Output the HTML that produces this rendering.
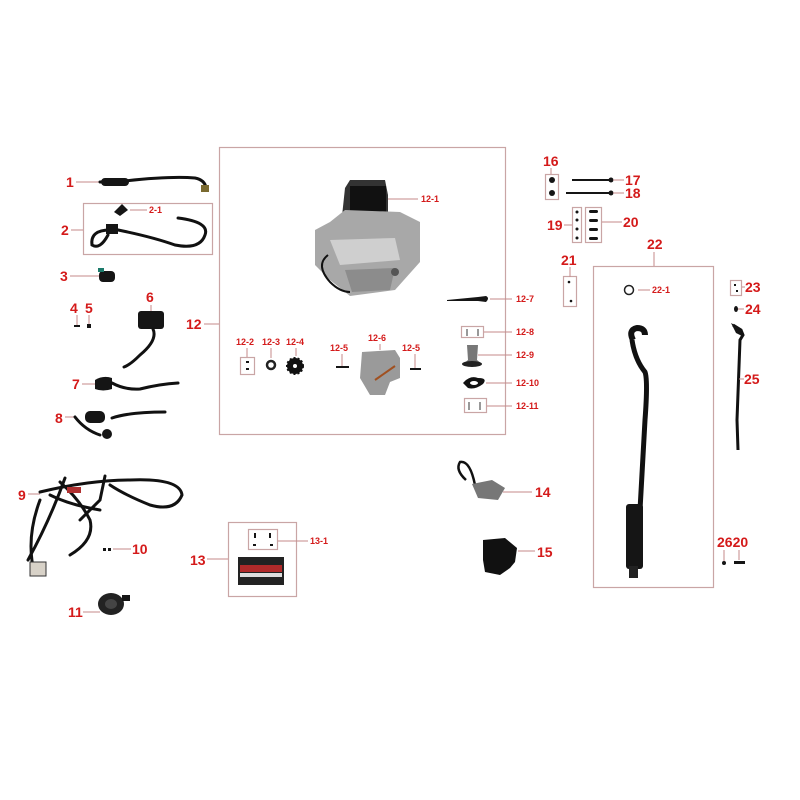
<!DOCTYPE html>
<html><head><meta charset="utf-8"><style>
html,body{margin:0;padding:0;background:#fff;width:800px;height:800px;overflow:hidden}
svg{display:block}
.l{font-family:"Liberation Sans",sans-serif;font-weight:bold;fill:#d41a1a;font-size:14px}
.s{font-family:"Liberation Sans",sans-serif;font-weight:bold;fill:#d41a1a;font-size:9px}
.ln{stroke:#c48a8a;stroke-width:1;fill:none}
.bx{stroke:#c9a5a5;stroke-width:1.2;fill:none}
.w{stroke:#111;stroke-width:3;fill:none;stroke-linecap:round}
.k{fill:#151515}
.g{fill:#8a8a8a}
</style></head><body>
<svg width="800" height="800" viewBox="0 0 800 800">
<!-- boxes -->
<rect class="bx" x="219.5" y="147.5" width="286" height="287"/>
<rect class="bx" x="593.5" y="266.5" width="120" height="321"/>
<rect class="bx" x="83.5" y="203.5" width="129" height="51"/>
<rect class="bx" x="228.5" y="522.5" width="68" height="74"/>
<rect class="bx" x="248.5" y="529.5" width="29" height="20"/>
<rect class="bx" x="545.5" y="174.5" width="13" height="25"/>
<rect class="bx" x="572.5" y="207.5" width="9" height="35"/>
<rect class="bx" x="585.5" y="207.5" width="16" height="35"/>
<rect class="bx" x="563.5" y="276.5" width="13" height="30"/>
<rect class="bx" x="730.5" y="280.5" width="11" height="15"/>
<rect class="bx" x="240.5" y="357.5" width="14" height="17"/>
<rect class="bx" x="461.5" y="326.5" width="22" height="11"/>
<rect class="bx" x="464.5" y="398.5" width="22" height="14"/>

<!-- left labels -->
<text class="l" x="66" y="187">1</text><line class="ln" x1="76" y1="182" x2="100" y2="182"/>
<path class="w" d="M100 182 L125 181 Q170 176 195 178 Q205 180 206 188" />
<rect class="k" x="101" y="178" width="28" height="8" rx="4"/>
<rect x="201" y="185" width="8" height="7" fill="#7a6a30"/>
<text class="l" x="61" y="235">2</text><line class="ln" x1="71" y1="230" x2="83" y2="230"/>
<path class="k" d="M114 212 L122 204 L128 210 L120 216Z"/><line class="ln" x1="130" y1="210" x2="147" y2="210"/><text class="s" x="149" y="213">2-1</text>
<path class="w" d="M108 228 Q150 236 175 245 Q200 250 205 235 Q210 222 178 218" stroke-width="2.5"/>
<path class="w" d="M110 230 Q90 230 92 245 Q100 250 108 235" stroke-width="1.5"/>
<rect class="k" x="106" y="224" width="12" height="10"/>
<text class="l" x="60" y="281">3</text><line class="ln" x1="70" y1="276" x2="100" y2="276"/>
<rect class="k" x="99" y="271" width="16" height="11" rx="4"/><rect x="98" y="268" width="6" height="4" fill="#1b7a6a"/>
<text class="l" x="70" y="313">4</text><text class="l" x="85" y="313">5</text>
<rect class="k" x="74" y="325" width="6" height="2"/><rect class="k" x="87" y="324" width="4" height="4"/>
<line class="ln" x1="77" y1="315" x2="77" y2="325"/><line class="ln" x1="89" y1="315" x2="89" y2="324"/>
<text class="l" x="146" y="302">6</text><line class="ln" x1="151" y1="305" x2="151" y2="311"/>
<rect class="k" x="138" y="311" width="26" height="18" rx="3"/>
<path class="w" d="M153 329 Q158 340 140 355 Q130 365 124 367"/>
<text class="l" x="72" y="389">7</text><line class="ln" x1="82" y1="384" x2="95" y2="384"/>
<path class="k" d="M95 380 Q103 375 112 378 L112 389 Q103 392 95 389Z"/>
<path class="w" d="M112 383 Q125 390 140 389 Q160 384 178 383" stroke-width="2"/>
<text class="l" x="55" y="423">8</text><line class="ln" x1="65" y1="417" x2="75" y2="417"/>
<path class="w" d="M75 417 Q85 430 100 435" stroke-width="2"/>
<rect class="k" x="85" y="411" width="20" height="12" rx="5"/><circle class="k" cx="107" cy="434" r="5"/>
<path class="w" d="M112 418 Q130 412 165 412" stroke-width="2"/>
<text class="l" x="18" y="500">9</text><line class="ln" x1="28" y1="494" x2="40" y2="494"/>
<g class="w" stroke-width="3">
<path d="M40 492 Q90 480 130 480 Q180 478 182 495 Q175 512 150 505 Q125 495 110 485"/>
<path d="M60 482 Q80 500 90 520 Q95 540 70 555"/>
<path d="M40 500 Q25 540 35 575"/>
<path d="M50 495 Q70 505 100 510"/>
<path d="M105 476 L100 500 L80 520"/>
<path d="M65 478 Q50 520 28 560"/>
</g>
<rect x="30" y="562" width="16" height="14" fill="#d8d2c8" stroke="#333"/>
<rect x="67" y="487" width="14" height="6" fill="#b03030"/>
<rect class="k" x="103" y="548" width="3" height="3"/><rect class="k" x="108" y="548" width="3" height="3"/>
<line class="ln" x1="113" y1="549" x2="131" y2="549"/><text class="l" x="132" y="554">10</text>
<text class="l" x="68" y="617">11</text><line class="ln" x1="83" y1="612" x2="100" y2="612"/>
<ellipse cx="111" cy="604" rx="13" ry="11" fill="#222"/><ellipse cx="111" cy="604" rx="6" ry="5" fill="#444"/>
<rect class="k" x="122" y="595" width="8" height="6"/>
<text class="l" x="186" y="329">12</text><line class="ln" x1="204" y1="324" x2="219" y2="324"/>

<!-- engine -->
<g>
<path d="M345 188 L350 180 L385 180 L388 195 L388 235 L340 235Z" fill="#333"/>
<rect x="350" y="186" width="36" height="40" fill="#111"/>
<path d="M315 230 L330 222 L345 210 L400 212 L420 222 L420 262 L395 290 L350 296 L330 280 L315 265Z" fill="#a8a8a8"/>
<path d="M330 240 L395 238 L400 260 L340 265Z" fill="#cfcfcf"/>
<path d="M345 270 L395 268 L390 290 L352 292Z" fill="#8c8c8c"/>
<circle cx="395" cy="272" r="4" fill="#555"/>
<path d="M328 255 Q315 265 330 282 Q340 292 350 292" stroke="#111" stroke-width="2" fill="none"/>
</g>
<line class="ln" x1="388" y1="199" x2="418" y2="199"/><text class="s" x="421" y="202">12-1</text>
<path d="M447 300 L478 297 L486 296 Q490 298 486 302 L478 301 L447 301Z" class="k"/>
<line class="ln" x1="490" y1="299" x2="512" y2="299"/><text class="s" x="516" y="302">12-7</text>
<line x1="467" y1="329" x2="467" y2="336" stroke="#333"/><line x1="478" y1="329" x2="478" y2="336" stroke="#333"/>
<line class="ln" x1="484" y1="332" x2="512" y2="332"/><text class="s" x="516" y="335">12-8</text>
<path d="M467 345 L478 345 L477 360 L482 364 L463 364 L468 360Z" fill="#777"/><ellipse cx="472" cy="364" rx="10" ry="3" fill="#222"/>
<line class="ln" x1="478" y1="355" x2="512" y2="355"/><text class="s" x="516" y="358">12-9</text>
<path d="M463 383 Q470 375 478 378 Q488 378 483 384 Q475 390 468 388Z" fill="#111"/><ellipse cx="474" cy="383" rx="4" ry="2" fill="#fff"/>
<line class="ln" x1="486" y1="383" x2="512" y2="383"/><text class="s" x="516" y="386">12-10</text>
<line x1="469" y1="402" x2="469" y2="410" stroke="#333"/><line x1="480" y1="402" x2="480" y2="410" stroke="#333"/>
<line class="ln" x1="487" y1="406" x2="512" y2="406"/><text class="s" x="516" y="409">12-11</text>
<text class="s" x="236" y="345">12-2</text><line class="ln" x1="247" y1="348" x2="247" y2="357"/>
<rect class="k" x="246" y="361" width="3" height="2"/><rect class="k" x="246" y="368" width="3" height="2"/>
<text class="s" x="262" y="345">12-3</text><line class="ln" x1="271" y1="348" x2="271" y2="358"/>
<circle cx="271" cy="365" r="4" fill="none" stroke="#222" stroke-width="2.5"/>
<text class="s" x="286" y="345">12-4</text><line class="ln" x1="296" y1="348" x2="296" y2="356"/>
<circle cx="295" cy="366" r="8" fill="#111" stroke="#111" stroke-width="2" stroke-dasharray="2 2"/><circle cx="295" cy="366" r="2" fill="#fff"/>
<text class="s" x="330" y="351">12-5</text><line class="ln" x1="342" y1="354" x2="342" y2="366"/><rect class="k" x="336" y="366" width="13" height="2"/>
<text class="s" x="402" y="351">12-5</text><line class="ln" x1="415" y1="354" x2="415" y2="368"/><rect class="k" x="410" y="368" width="11" height="2"/>
<text class="s" x="368" y="341">12-6</text><line class="ln" x1="380" y1="344" x2="380" y2="350"/>
<path d="M362 352 L395 350 L400 358 L400 378 L390 382 L385 395 L370 395 L360 378Z" fill="#9a9a9a"/>
<path d="M375 380 L395 366" stroke="#a05020" stroke-width="2"/>

<!-- 13 battery -->
<text class="l" x="190" y="565">13</text><line class="ln" x1="207" y1="559" x2="228" y2="559"/>
<rect class="k" x="254" y="533" width="2" height="5"/><rect class="k" x="269" y="533" width="2" height="5"/>
<rect class="k" x="253" y="544" width="3" height="2"/><rect class="k" x="270" y="544" width="3" height="2"/>
<line class="ln" x1="278" y1="541" x2="308" y2="541"/><text class="s" x="310" y="544">13-1</text>
<rect x="238" y="557" width="46" height="28" fill="#222"/>
<rect x="240" y="565" width="42" height="7" fill="#b02a2a"/><rect x="240" y="573" width="42" height="4" fill="#ddd"/>

<!-- 14 15 -->
<path d="M466 480 Q455 470 460 462 Q470 460 475 485" stroke="#111" stroke-width="2.5" fill="none"/>
<path d="M472 484 L492 480 L505 488 L498 500 L478 498Z" fill="#777"/>
<line class="ln" x1="503" y1="492" x2="532" y2="492"/><text class="l" x="535" y="497">14</text>
<path d="M483 540 L505 538 L517 548 L515 562 L510 568 L500 575 L485 572 L483 560Z" fill="#111"/>
<line class="ln" x1="518" y1="551" x2="535" y2="551"/><text class="l" x="537" y="557">15</text>

<!-- right -->
<text class="l" x="543" y="166">16</text><line class="ln" x1="551" y1="168" x2="551" y2="174"/>
<circle class="k" cx="552" cy="180" r="3"/><circle class="k" cx="552" cy="193" r="3"/>
<rect class="k" x="572" y="179" width="38" height="2"/><circle class="k" cx="611" cy="180" r="2.5"/>
<line class="ln" x1="613" y1="180" x2="624" y2="180"/><text class="l" x="625" y="185">17</text>
<rect class="k" x="566" y="192" width="44" height="2"/><circle class="k" cx="611" cy="193" r="2.5"/>
<line class="ln" x1="613" y1="193" x2="624" y2="193"/><text class="l" x="625" y="198">18</text>
<text class="l" x="547" y="230">19</text><line class="ln" x1="564" y1="225" x2="572" y2="225"/>
<g class="k"><circle cx="577" cy="212" r="1.5"/><circle cx="577" cy="220" r="1.5"/><circle cx="577" cy="229" r="1.5"/><circle cx="577" cy="238" r="1.5"/>
<rect x="589" y="210" width="9" height="3" rx="1.5"/><rect x="589" y="219" width="9" height="3" rx="1.5"/><rect x="589" y="228" width="9" height="3" rx="1.5"/><rect x="589" y="237" width="9" height="3" rx="1.5"/></g>
<line class="ln" x1="602" y1="222" x2="622" y2="222"/><text class="l" x="623" y="227">20</text>
<text class="l" x="561" y="265">21</text><line class="ln" x1="570" y1="267" x2="570" y2="277"/>
<circle class="k" cx="569" cy="282" r="1.3"/><circle class="k" cx="571" cy="301" r="1.3"/>
<text class="l" x="647" y="249">22</text><line class="ln" x1="654" y1="252" x2="654" y2="266"/>
<circle cx="629" cy="290" r="4.5" fill="none" stroke="#222" stroke-width="1.5"/>
<line class="ln" x1="638" y1="290" x2="650" y2="290"/><text class="s" x="652" y="293">22-1</text>
<path d="M633 340 Q628 330 637 328 Q645 328 645 335" stroke="#111" stroke-width="6" fill="none"/>
<path d="M632 340 Q635 360 645 372 Q648 380 645 420 L640 510" stroke="#111" stroke-width="5" fill="none"/>
<rect x="626" y="504" width="17" height="65" rx="3" fill="#151515"/>
<rect x="629" y="566" width="9" height="12" fill="#222"/>
<rect class="k" x="734" y="284" width="2" height="2"/><rect class="k" x="736" y="290" width="2" height="2"/>
<line class="ln" x1="742" y1="287" x2="745" y2="287"/><text class="l" x="745" y="292">23</text>
<ellipse class="k" cx="736" cy="309" rx="2" ry="3"/><line class="ln" x1="738" y1="309" x2="744" y2="309"/><text class="l" x="745" y="314">24</text>
<path d="M733 325 L741 330 L743 335 L740 340 L737 420 L738 450" stroke="#111" stroke-width="3" fill="none"/>
<path d="M731 323 L740 328 L742 336 L736 333Z" class="k"/>
<line class="ln" x1="739" y1="379" x2="744" y2="379"/><text class="l" x="744" y="384">25</text>
<text class="l" x="717" y="547">2620</text>
<line class="ln" x1="724" y1="550" x2="724" y2="562"/><circle class="k" cx="724" cy="563" r="2"/>
<line class="ln" x1="739" y1="550" x2="739" y2="560"/><rect class="k" x="734" y="561" width="11" height="3"/>
</svg>
</body></html>
